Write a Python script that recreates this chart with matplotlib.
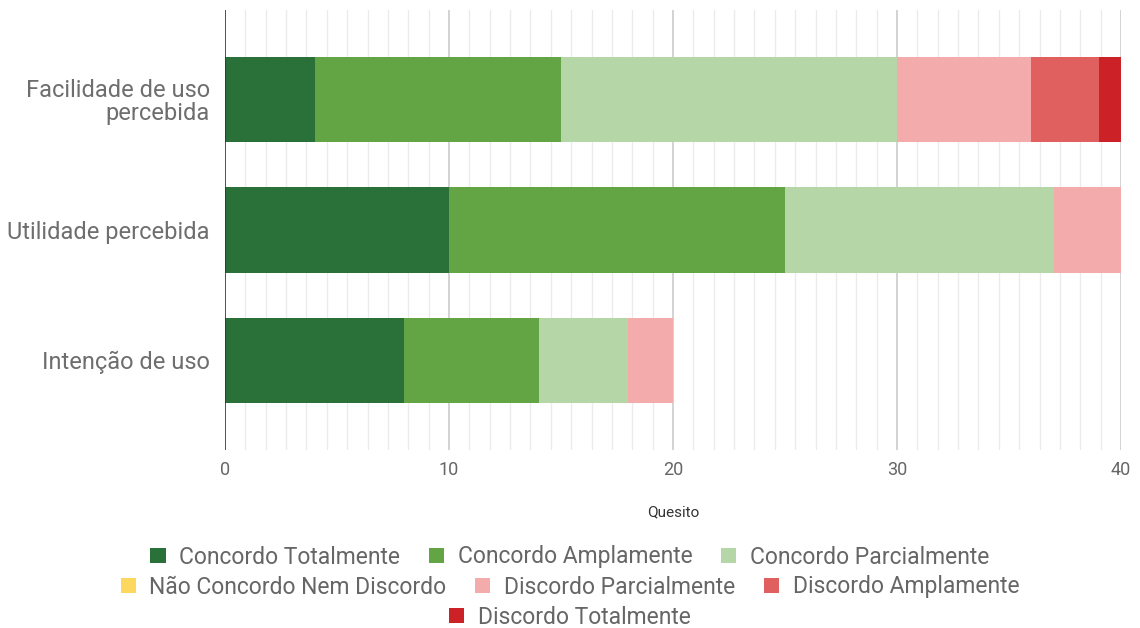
import numpy as np
import matplotlib.pyplot as plt
from matplotlib.patches import Patch

plt.rcParams['font.family'] = ['Roboto', 'DejaVu Sans']

CATEGORIES = ["Facilidade de uso\npercebida", "Utilidade percebida", "Intenção de uso"]
SERIES = ["Concordo Totalmente", "Concordo Amplamente", "Concordo Parcialmente",
          "Não Concordo Nem Discordo", "Discordo Parcialmente", "Discordo Amplamente",
          "Discordo Totalmente"]
COLORS = ["#2a7139", "#63a545", "#b5d7a7", "#fdd85e", "#f3abab", "#e05f5f", "#cc2127"]

concordo_total = [4, 10, 8]
concordo_ampl = [11, 15, 6]
concordo_parc = [15, 12, 4]
neutro = [0, 0, 0]
discordo_parc = [6, 3, 2]
discordo_ampl = [3, 0, 0]
discordo_total = [1, 0, 0]

VALUES = [concordo_total, concordo_ampl, concordo_parc, neutro,
          discordo_parc, discordo_ampl, discordo_total]

X_MAX = 40
X_LABEL = "Quesito"

fig = plt.figure(figsize=(11.4, 6.28), dpi=100)
ax = fig.add_axes([225/1140, 1-450/628, (1121-225)/1140, 440/628])

# grille : majeure tous les 10, 10 mineures entre chaque
for k in range(0, X_MAX, 10):
    for x in np.linspace(k, k+10, 12)[1:-1]:
        ax.axvline(x, color="#ebebeb", lw=1, zorder=0)
for x in range(10, X_MAX+1, 10):
    ax.axvline(x, color="#cccccc", lw=1.2, zorder=0)
ax.axvline(0, color="#333333", lw=1.2, zorder=3)

y = np.arange(len(CATEGORIES))
left = np.zeros(len(CATEGORIES))
for name, vals, col in zip(SERIES, VALUES, COLORS):
    ax.barh(y, vals, left=left, height=0.654, color=col, zorder=2)
    left += np.array(vals)

ax.set_xlim(0, X_MAX)
ax.set_ylim(2.692, -0.692)
ax.set_yticks(y)
ax.set_yticklabels(CATEGORIES, fontsize=17, color="#6e6e6e", linespacing=1.0)
ax.set_xticks(range(0, X_MAX+1, 10))
ax.tick_params(axis='x', labelsize=13, colors="#666666", length=0, pad=8)
ax.tick_params(axis='y', length=0, pad=11)
ax.set_xlabel(X_LABEL, fontsize=11, color="#333333", labelpad=19)
for s in ax.spines.values():
    s.set_visible(False)

handles = [Patch(facecolor=c, edgecolor='none') for c in COLORS]
rows = [(0, 3, 1-557/628), (3, 6, 1-587/628), (6, 7, 1-617/628)]
for a, b, yy in rows:
    leg = fig.legend(handles[a:b], SERIES[a:b], loc='center', bbox_to_anchor=(0.5, yy),
                     ncol=b-a, frameon=False, fontsize=16.5, handlelength=0.66,
                     handleheight=0.66, handletextpad=0.6, columnspacing=1.25,
                     borderpad=0, borderaxespad=0)
    for t in leg.get_texts():
        t.set_color("#666666")

fig.savefig("out.png", dpi=100)
